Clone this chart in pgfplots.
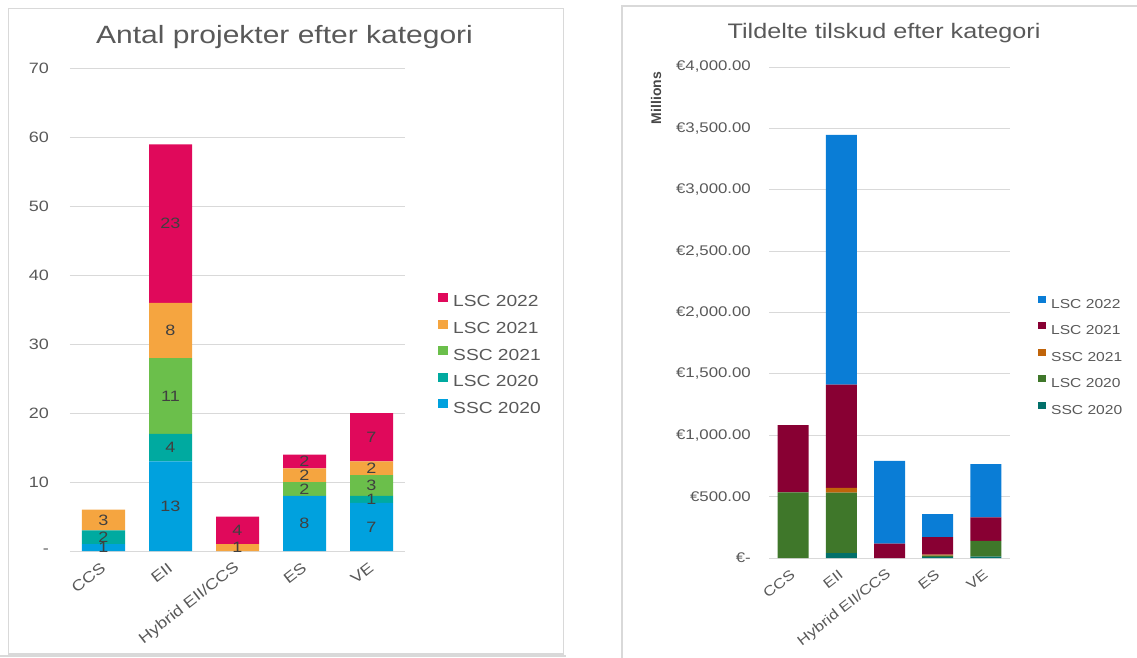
\documentclass[border=0pt]{standalone}
\usepackage{fontspec}
\setmainfont{Liberation Sans}[FakeStretch=1.2]
\newfontfamily\plainsans{Liberation Sans}
\usepackage{pgfplots}
\pgfplotsset{compat=1.18}

% left chart colours
\definecolor{aLSCtt}{HTML}{E0095B}
\definecolor{aLSCto}{HTML}{F5A540}
\definecolor{aSSCto}{HTML}{6BBF4B}
\definecolor{aLSCtz}{HTML}{00AAA0}
\definecolor{aSSCtz}{HTML}{00A1DE}
% right chart colours
\definecolor{bLSCtt}{HTML}{0A7DD6}
\definecolor{bLSCto}{HTML}{880033}
\definecolor{bSSCto}{HTML}{C0640A}
\definecolor{bLSCtz}{HTML}{3F772A}
\definecolor{bSSCtz}{HTML}{02706A}
\definecolor{txt}{HTML}{595959}
\definecolor{grd}{HTML}{D9D9D9}

\pgfplotsset{
  panel/.style={
    scale only axis,
    anchor=south west,
    xmin=-0.5, xmax=4.5,
    xtick={0,...,4},
    xticklabels={CCS,EII,Hybrid EII/CCS,ES,VE},
    axis line style={draw=none},
    major tick length=0pt,
    ymajorgrids,
    grid style={grd, line width=1pt},
    ybar stacked,
    xticklabel style={rotate=38, anchor=east, inner sep=0pt, text=txt},
    xticklabel shift=15pt,
    yticklabel style={anchor=east, inner sep=0pt, text=txt},
    reverse legend,
    legend cell align=left,
  },
}

\begin{document}
\begin{tikzpicture}[x=1pt,y=1pt]
\useasboundingbox (0pt,0pt) rectangle (1137pt,657pt);
\begin{scope}
\clip (0pt,0pt) rectangle (1137pt,657pt);
\draw[grd, line width=1.5pt] (8.5pt,3pt) rectangle (563.5pt,648.5pt);
\fill[grd] (0pt,0pt) rectangle (566pt,2pt);
\draw[grd, line width=1.5pt] (622pt,-5pt) rectangle (1150pt,651pt);
\end{scope}

\node[anchor=base, text=txt, font=\fontsize{25}{30}\selectfont] at (284.5pt,613pt) {Antal projekter efter kategori};
\node[anchor=base, text=txt, font=\fontsize{21}{25}\selectfont] at (884pt,618pt) {Tildelte tilskud efter kategori};

% ---- left: number of projects
\begin{axis}[panel,
  at={(70pt,106pt)}, width=335pt, height=482.5pt,
  ymin=0, ymax=70,
  ytick={0,10,...,70},
  yticklabels={-\hspace{12pt},10,20,30,40,50,60,70},
  yticklabel style={xshift=-21pt},
  bar width=43pt,
  ticklabel style={font=\fontsize{15}{18}\selectfont},
  legend image code/.code={\draw[#1,draw=none] (0pt,-1pt) rectangle (10pt,8pt);},
  legend style={at={(1.0985,0.41)}, anchor=west, draw=none, fill=none,
    inner sep=0pt, row sep=12.6pt, text=txt,
    font=\fontsize{16}{19}\selectfont,
    nodes={inner sep=0pt, text height=12pt, text depth=0pt},
    /tikz/every odd column/.append style={column sep=5pt}},
]
\addplot[fill=aSSCtz, draw=none] coordinates {(0,1) (1,13) (2,0) (3,8) (4,7)};
\addlegendentry{SSC 2020}
\addplot[fill=aLSCtz, draw=none] coordinates {(0,2) (1,4) (2,0) (3,0) (4,1)};
\addlegendentry{LSC 2020}
\addplot[fill=aSSCto, draw=none] coordinates {(0,0) (1,11) (2,0) (3,2) (4,3)};
\addlegendentry{SSC 2021}
\addplot[fill=aLSCto, draw=none] coordinates {(0,3) (1,8) (2,1) (3,2) (4,2)};
\addlegendentry{LSC 2021}
\addplot[fill=aLSCtt, draw=none] coordinates {(0,0) (1,23) (2,4) (3,2) (4,7)};
\addlegendentry{LSC 2022}
\end{axis}

% data labels at segment centres
\begin{axis}[
  scale only axis, anchor=south west,
  at={(70pt,106pt)}, width=335pt, height=482.5pt,
  xmin=-0.5, xmax=4.5, ymin=0, ymax=70,
  hide axis,
]
\addplot[draw=none, mark=none, nodes near coords, point meta=explicit symbolic,
  every node near coord/.style={anchor=center, inner sep=0pt, text=black!75,
    font=\fontsize{15}{18}\selectfont}]
  coordinates {
  (0,0.5) [1] (0,2) [2] (0,4.5) [3]
  (1,6.5) [13] (1,15) [4] (1,22.5) [11] (1,32) [8] (1,47.5) [23]
  (2,0.5) [1] (2,3) [4]
  (3,4) [8] (3,9) [2] (3,11) [2] (3,13) [2]
  (4,3.5) [7] (4,7.5) [1] (4,9.5) [3] (4,12) [2] (4,16.5) [7]
};
\end{axis}

% ---- right: grants
\begin{axis}[panel,
  at={(769pt,99pt)}, width=241pt, height=491pt,
  ymin=0, ymax=4000,
  ytick={0,500,...,4000},
  yticklabels={{€-\hspace{10pt}},{€500.00},{€1,000.00},{€1,500.00},{€2,000.00},{€2,500.00},{€3,000.00},{€3,500.00},{€4,000.00}},
  yticklabel style={xshift=-18pt},
  bar width=31pt,
  ticklabel style={font=\fontsize{14}{17}\selectfont},
  legend image code/.code={\draw[#1,draw=none] (0pt,0.5pt) rectangle (8pt,7.5pt);},
  legend style={at={(1.116,0.4134)}, anchor=west, draw=none, fill=none,
    inner sep=0pt, row sep=13.8pt, text=txt,
    font=\fontsize{13}{16}\selectfont,
    nodes={inner sep=0pt, text height=10.5pt, text depth=0pt},
    /tikz/every odd column/.append style={column sep=5pt}},
]
\addplot[fill=bSSCtz, draw=none] coordinates {(0,0) (1,40) (2,0) (3,10) (4,12)};
\addlegendentry{SSC 2020}
\addplot[fill=bLSCtz, draw=none] coordinates {(0,535) (1,492) (2,0) (3,10) (4,128)};
\addlegendentry{LSC 2020}
\addplot[fill=bSSCto, draw=none] coordinates {(0,0) (1,40) (2,0) (3,8) (4,0)};
\addlegendentry{SSC 2021}
\addplot[fill=bLSCto, draw=none] coordinates {(0,547) (1,841) (2,117) (3,142) (4,191)};
\addlegendentry{LSC 2021}
\addplot[fill=bLSCtt, draw=none] coordinates {(0,0) (1,2034) (2,675) (3,187) (4,433)};
\addlegendentry{LSC 2022}
\end{axis}

\node[rotate=90, anchor=center, text=txt!80!black, font=\plainsans\bfseries\fontsize{14}{17}\selectfont] at (656pt,559pt) {Millions};
\end{tikzpicture}
\end{document}
